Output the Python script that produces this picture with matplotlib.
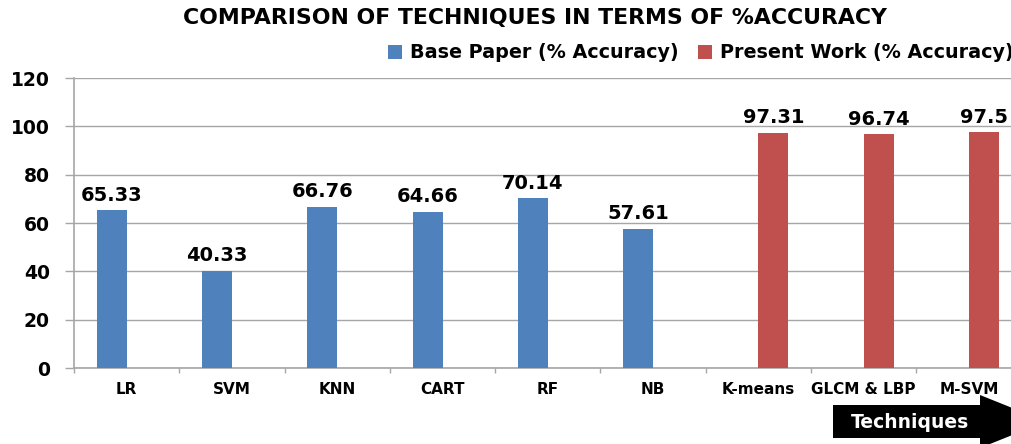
import matplotlib
matplotlib.use("Agg")
import matplotlib.pyplot as plt
import numpy as np
from matplotlib.patches import Polygon, Patch

categories = ["LR", "SVM", "KNN", "CART", "RF", "NB", "K-means", "GLCM & LBP", "M-SVM"]
base_paper = [65.33, 40.33, 66.76, 64.66, 70.14, 57.61, None, None, None]
present_work = [None, None, None, None, None, None, 97.31, 96.74, 97.5]
series_names = ["Base Paper (% Accuracy)", "Present Work (% Accuracy)"]
colors = ["#4F81BD", "#C0504D"]
yticks = [0, 20, 40, 60, 80, 100, 120]

W, H = 1012, 444
fig = plt.figure(figsize=(W / 100, H / 100), dpi=100)
ax = fig.add_axes([74 / W, 1 - 368 / H, 947.7 / W, 290 / H])

FONT = "DejaVu Sans"
x = np.arange(len(categories))
bw = 0.285
for i, (vals, col) in enumerate(zip([base_paper, present_work], colors)):
    off = (i - 0.5) * bw
    xs = [xi + off for xi, v in zip(x, vals) if v is not None]
    vs = [v for v in vals if v is not None]
    ax.bar(xs, vs, width=bw, color=col, zorder=3)
    for xb, v in zip(xs, vs):
        ax.annotate(f"{v:g}", (xb, v), xytext=(0, 4), textcoords="offset points",
                    ha="center", va="bottom", fontsize=14, fontweight="bold",
                    family=FONT, color="black", zorder=4)

ax.set_xlim(-0.5, len(categories) - 0.5)
ax.set_ylim(0, 120)
ax.set_yticks(yticks)
ax.set_yticklabels([str(t) for t in yticks], fontsize=13.5, fontweight="bold", family=FONT)
ax.yaxis.grid(True, color="#A6A6A6", linewidth=1, zorder=0)
ax.set_axisbelow(True)
ax.tick_params(axis="y", length=6.5, color="#A6A6A6", pad=11, width=1)

ax.set_xticks(x)
ax.set_xticklabels(categories, fontsize=11, fontweight="bold", family=FONT)
ax.set_xticks(np.arange(-0.5, len(categories), 1), minor=True)
ax.tick_params(axis="x", which="major", length=0, pad=10)
ax.tick_params(axis="x", which="minor", length=3.5, color="#A6A6A6", width=1)

for s in ["top", "right"]:
    ax.spines[s].set_visible(False)
for s in ["left", "bottom"]:
    ax.spines[s].set_color("#A6A6A6")
    ax.spines[s].set_linewidth(1.2)

fig.text(535 / W, 1 - 18 / H, "COMPARISON OF TECHNIQUES IN TERMS OF %ACCURACY",
         ha="center", va="center", fontsize=15.8, fontweight="bold", family=FONT)

handles = [Patch(facecolor=c, edgecolor="none") for c in colors]
fig.legend(handles, series_names, loc="center left", bbox_to_anchor=(388 / W, 1 - 53 / H),
           ncol=2, frameon=False, prop={"family": FONT, "weight": "bold", "size": 13.8},
           handlelength=0.75, handleheight=0.75, handletextpad=0.4, columnspacing=1.0,
           borderaxespad=0, borderpad=0)

# decorative arrow
pts = [(833, 405), (980, 405), (980, 395), (1046, 421.5), (980, 448), (980, 438), (833, 438)]
arrow = Polygon([(px / W, 1 - py / H) for px, py in pts], closed=True,
                transform=fig.transFigure, facecolor="black", edgecolor="none")
fig.patches.append(arrow)
fig.text(910 / W, 1 - 422 / H, "Techniques", ha="center", va="center", color="white",
         fontsize=13.5, fontweight="bold", family=FONT)

fig.savefig("out.png", dpi=100)
